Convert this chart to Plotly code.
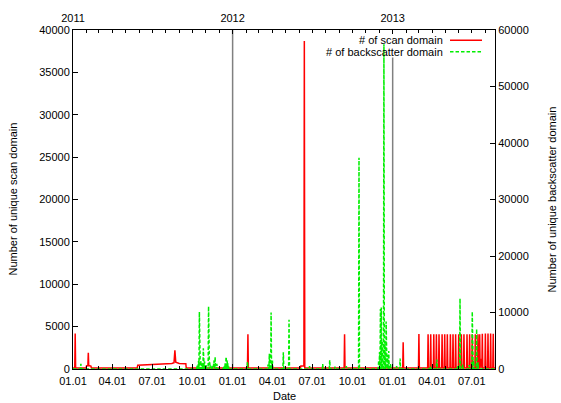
import plotly.graph_objects as go
from datetime import date, timedelta

# ---------------- data ----------------
x_start = "2011-01-01"
x_end = "2013-08-23"

# scan domain: shaped segments (date, value)
scan_dates = [
    "2011-01-31", "2011-02-01", "2011-02-04", "2011-02-05", "2011-02-06", "2011-02-11", "2011-02-12",
    "2011-05-28", "2011-05-29", "2011-06-15", "2011-07-01", "2011-07-15", "2011-08-01", "2011-08-15",
    "2011-08-20", "2011-08-22", "2011-08-24", "2011-09-01", "2011-09-16", "2011-09-17",
    "2012-06-04", "2012-06-05", "2012-06-12", "2012-06-13", "2012-06-14",
    "2013-07-21", "2013-07-22", "2013-07-23",
]
scan_values = [
    120, 380, 380, 1900, 400, 350, 120,
    120, 450, 480, 520, 550, 600, 650,
    750, 2200, 800, 650, 620, 120,
    120, 350, 350, 38700, 120,
    1200, 500, 1100,
]
# scan domain: single-day peaks
scan_peak_dates = [
    "2011-01-06", "2012-02-05", "2012-09-13", "2013-01-25", "2013-03-02",
    "2013-03-23", "2013-03-29", "2013-04-05", "2013-04-11", "2013-04-17", "2013-04-24",
    "2013-04-30", "2013-05-06", "2013-05-13", "2013-05-19", "2013-05-25", "2013-06-01",
    "2013-06-07", "2013-06-13", "2013-06-20", "2013-06-26", "2013-07-02", "2013-07-09",
    "2013-07-15", "2013-07-19", "2013-07-25", "2013-08-01", "2013-08-07", "2013-08-13", "2013-08-19",
]
scan_peak_values = [
    4200, 4100, 4100, 3150, 4130,
    4100, 4100, 4100, 4100, 4100, 4100,
    4100, 4100, 4100, 4100, 4100, 4100,
    4100, 4100, 4100, 4100, 4100, 4100,
    4100, 4100, 4150, 4200, 4200, 4200, 4150,
]
scan_base = 120

# backscatter domain: single-day peaks
bs_peak_dates = [
    "2011-01-19",
    "2011-10-12", "2011-10-15", "2011-10-17", "2011-10-20", "2011-10-23", "2011-10-26",
    "2011-10-29", "2011-11-02", "2011-11-07", "2011-11-10", "2011-11-15", "2011-11-19",
    "2011-11-22", "2011-11-26", "2011-12-12", "2011-12-15", "2011-12-17", "2011-12-20", "2011-12-23",
    "2012-02-04", "2012-03-22", "2012-03-25", "2012-03-29", "2012-04-01", "2012-04-26",
    "2012-05-09", "2012-06-25", "2012-07-25", "2012-08-10", "2012-08-22", "2012-09-17",
    "2012-10-16", "2012-11-30", "2012-12-02", "2012-12-04", "2012-12-06", "2012-12-08",
    "2012-12-12", "2012-12-14", "2012-12-17", "2012-12-20", "2012-12-23", "2012-12-27",
    "2013-01-10", "2013-01-18", "2013-03-28", "2013-04-12", "2013-05-29", "2013-06-04",
    "2013-06-10", "2013-06-25", "2013-07-02", "2013-07-05", "2013-07-12", "2013-07-15",
]
bs_peak_values = [
    900,
    700, 1400, 10100, 1500, 1000, 3650,
    1300, 700, 11100, 1200, 700, 1500,
    2140, 900, 600, 1000, 2140, 1500, 500,
    1270, 800, 2700, 10000, 1500, 2950,
    8700, 500, 870, 1565, 400, 500,
    37400, 1500, 3000, 10600, 10900, 5000,
    57500, 5000, 8400, 2500, 3200, 1000,
    500, 1860, 500, 1680, 500, 12470,
    800, 700, 10140, 1500, 7070, 1200,
]
bs_base = 0

year_ticks = ["2011-01-01", "2012-01-01", "2013-01-01"]
year_labels = ["2011", "2012", "2013"]


def build(dates, values, peak_dates, peak_values, base):
    pts = {}
    for d, v in zip(dates, values):
        pts[date.fromisoformat(d)] = v
    peaks = [date.fromisoformat(d) for d in peak_dates]
    for d, v in zip(peaks, peak_values):
        pts[d] = v
    one = timedelta(days=1)
    for d in peaks:
        pts.setdefault(d - one, base)
        pts.setdefault(d + one, base)
    pts.setdefault(date.fromisoformat(x_start), base)
    pts.setdefault(date.fromisoformat(x_end), base)
    keys = sorted(pts)
    return keys, [pts[k] for k in keys]


sx, sy = build(scan_dates, scan_values, scan_peak_dates, scan_peak_values, scan_base)
bx, by = build([], [], bs_peak_dates, bs_peak_values, bs_base)

FONT = "Liberation Sans, Arial, Helvetica, sans-serif"
RED = "#ff0000"
GREEN = "#00ee00"

fig = go.Figure()
fig.add_trace(go.Scatter(x=bx, y=by, mode="lines", yaxis="y2",
                         line=dict(color=GREEN, width=1.5, dash="3.5px,2px"),
                         name="# of backscatter domain", hoverinfo="skip"))
fig.add_trace(go.Scatter(x=sx, y=sy, mode="lines",
                         line=dict(color=RED, width=1.5),
                         name="# of scan domain", hoverinfo="skip"))
# carrier for the top (year) axis
fig.add_trace(go.Scatter(x=[x_start, x_end], y=[0, 0], xaxis="x2", mode="lines",
                         line=dict(width=0), opacity=0, showlegend=False, hoverinfo="skip"))

axis_common = dict(showline=True, linecolor="black", linewidth=1, showgrid=False,
                   zeroline=False, ticks="inside", tickcolor="black",
                   tickfont=dict(family=FONT, size=11, color="black"))

fig.update_layout(
    width=561, height=403,
    margin=dict(l=73, r=66, t=24, b=34),
    paper_bgcolor="white", plot_bgcolor="white",
    showlegend=False,
    font=dict(family=FONT, size=11, color="black"),
    xaxis=dict(type="date", range=[x_start, x_end], dtick="M3", tick0=x_start,
               tickformat="%m.%d", ticklen=5, ticklabelstandoff=2,
               minor=dict(dtick="M1", tick0=x_start, ticks="inside", ticklen=3,
                          tickcolor="black", showgrid=False),
               **axis_common),
    xaxis2=dict(type="date", range=[x_start, x_end], overlaying="x", side="top",
                tickmode="array", tickvals=year_ticks, ticktext=year_labels, ticklen=4,
                ticklabelstandoff=3,
                minor=dict(dtick="M1", tick0=x_start, ticks="inside", ticklen=3,
                           tickcolor="black", showgrid=False),
                **axis_common),
    yaxis=dict(range=[0, 40000], dtick=5000, tickformat="d", ticklen=5, **axis_common),
    yaxis2=dict(range=[0, 60000], dtick=10000, tickformat="d", ticklen=5,
                overlaying="y", side="right", **axis_common),
)

# year separators
fig.add_shape(type="line", xref="x", yref="paper", x0="2012-01-01", x1="2012-01-01",
              y0=0, y1=1, line=dict(color="#808080", width=1.5), layer="below")
fig.add_shape(type="line", xref="x", yref="paper", x0="2013-01-01", x1="2013-01-01",
              y0=0, y1=0.919, line=dict(color="#808080", width=1.5), layer="below")

# axis titles
fig.add_annotation(text="Number of unique scan domain", xref="paper", yref="paper",
                   x=-0.1445, y=0.5, textangle=-90, showarrow=False,
                   xanchor="center", yanchor="middle", font=dict(size=11))
fig.add_annotation(text="Number of unique backscatter domain", xref="paper", yref="paper",
                   x=1.135, y=0.5, textangle=-90, showarrow=False,
                   xanchor="center", yanchor="middle", font=dict(size=11))
fig.add_annotation(text="Date", xref="paper", yref="paper", x=0.5, y=-0.081,
                   showarrow=False, xanchor="center", yanchor="middle", font=dict(size=11))

# key (text then sample line, gnuplot style)
for label, color, dash, yy in [("# of scan domain", RED, "solid", 0.970),
                               ("# of backscatter domain", GREEN, "3.5px,2px", 0.936)]:
    fig.add_annotation(text=label, xref="paper", yref="paper", x=0.8815, y=yy,
                       showarrow=False, xanchor="right", yanchor="middle",
                       font=dict(size=11))
    fig.add_shape(type="line", xref="paper", yref="paper", x0=0.8934, x1=0.9692,
                  y0=yy, y1=yy, line=dict(color=color, width=1.5, dash=dash))

fig.write_html("out.html", config={"displayModeBar": False},
               post_script="document.body.style.margin='0';document.body.style.padding='0';")
